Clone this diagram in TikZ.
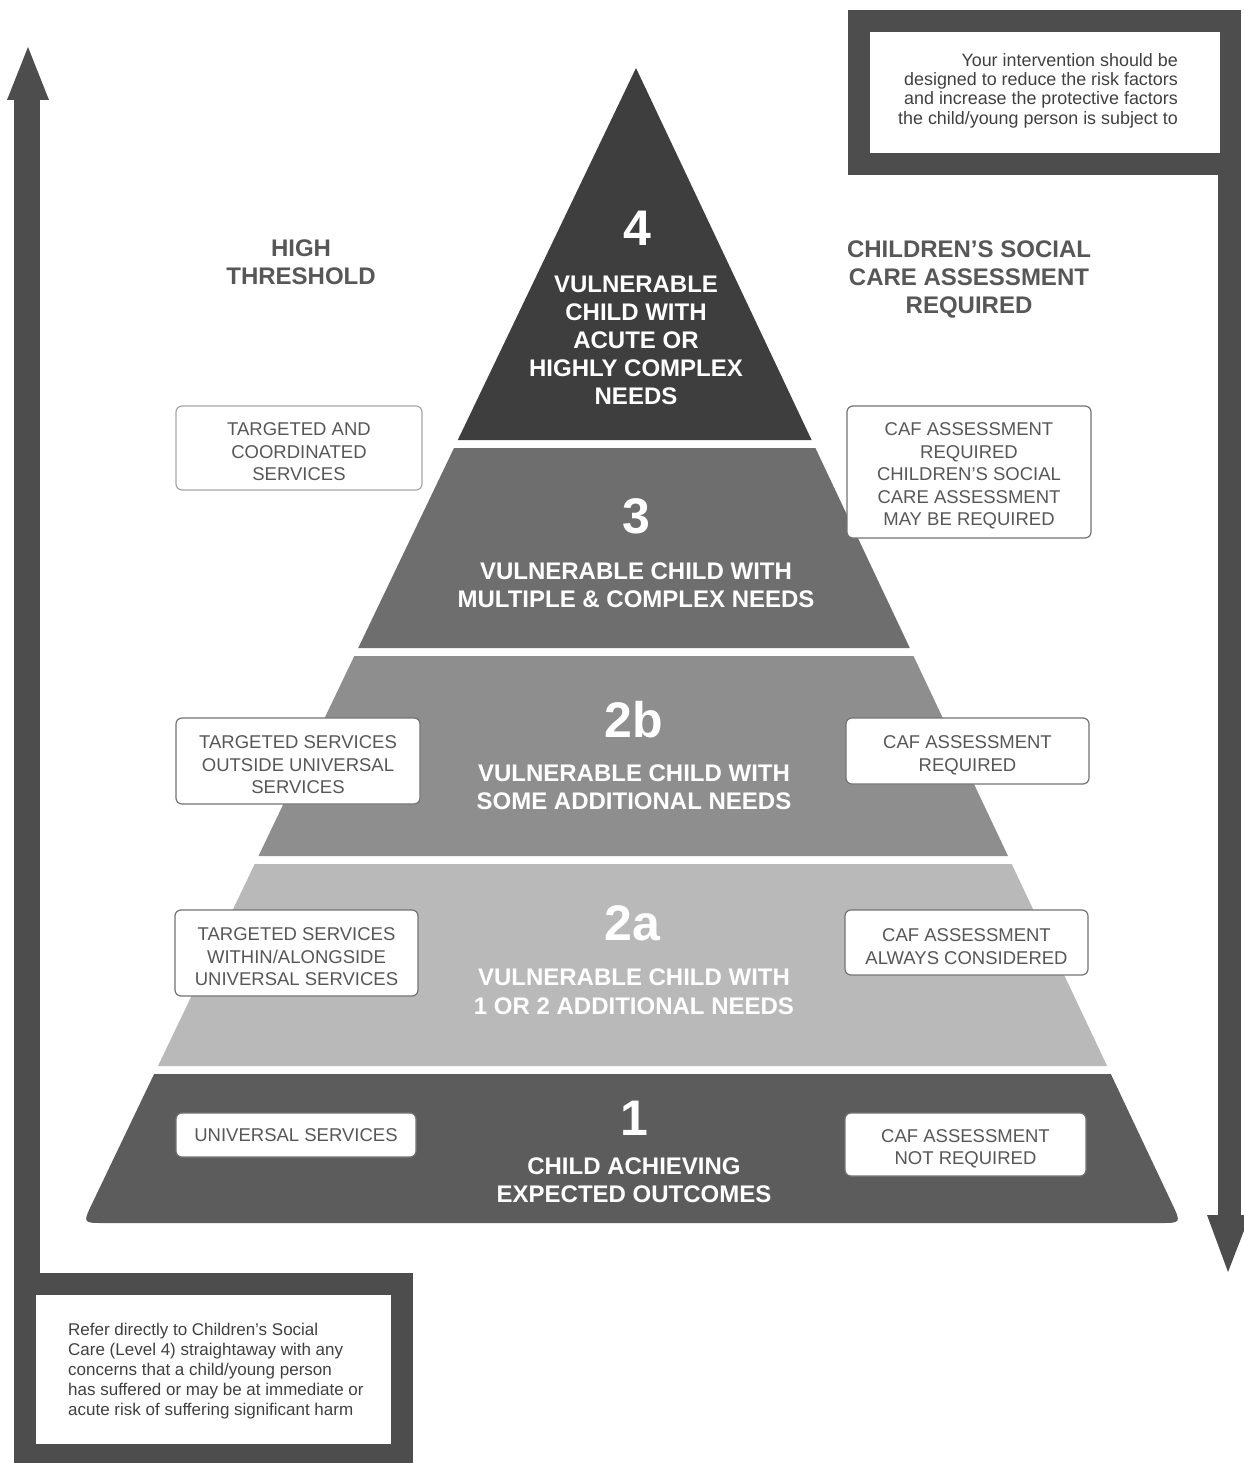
\documentclass[tikz,border=0pt]{standalone}
\usepackage{fontspec}
\setmainfont{Liberation Sans}
\definecolor{framec}{HTML}{4D4D4D}
\definecolor{lvfour}{HTML}{3E3E3E}
\definecolor{lvthree}{HTML}{6E6E6E}
\definecolor{lvtwob}{HTML}{8E8E8E}
\definecolor{lvtwoa}{HTML}{B9B9B9}
\definecolor{lvone}{HTML}{5C5C5C}
\definecolor{txtgray}{HTML}{575757}
\newcommand\bxs{\rule{0pt}{21pt}}
\begin{document}
\begin{tikzpicture}[x=1pt,y=-1pt,
  numtxt/.style={text=white,font=\fontsize{50}{54}\selectfont\bfseries,inner sep=0pt},
  leveltxt/.style={text=white,align=center,font=\fontsize{24}{28}\selectfont\bfseries,inner sep=0pt},
  headtxt/.style={text=txtgray,align=center,font=\fontsize{24}{28}\selectfont\bfseries,inner sep=0pt},
  sidebox/.style={draw=black!55,line width=1.2pt,fill=white,rounded corners=6pt,text=txtgray,
    align=center,font=\fontsize{18.5}{22.5}\selectfont,inner sep=0pt},
  notetxt/.style={text=black!75,inner sep=0pt}]
\useasboundingbox (0,0) rectangle (1243,1463);
\fill[white] (0,0) rectangle (1243,1463);

% left arrow and bottom-left box
\fill[framec] (14,100) rectangle (40,1273);
\fill[framec] (7,100) -- (49,100) -- (28,47) -- cycle;
\fill[framec] (14,1273) rectangle (413,1463);
\fill[white] (36,1295) rectangle (391,1444);
\node[notetxt,anchor=north west,align=left,font=\fontsize{17}{20}\selectfont] (notebl) at (68,1323)
  {Refer directly to Children’s Social\\Care (Level 4) straightaway with any\\concerns that a child/young person\\has suffered or may be at immediate or\\acute risk of suffering significant harm};

% right arrow and top-right box
\fill[framec] (848,10) rectangle (1241,175);
\fill[white] (870,32) rectangle (1220,153);
\fill[framec] (1218,175) rectangle (1241,1215);
\fill[framec] (1207,1215) -- (1250,1215) -- (1228,1272) -- cycle;
\node[notetxt,anchor=north east,align=right,font=\fontsize{17.9}{19.4}\selectfont] (notetr) at (1178,53)
  {Your intervention should be\\designed to reduce the risk factors\\and increase the protective factors\\the child/young person is subject to};

% pyramid bands
\fill[lvfour] (636,68) -- (811.6,440) -- (457.8,440) -- cycle;
\fill[lvthree] (454.0,448) -- (815.4,448) -- (909.8,648) -- (358.2,648) -- cycle;
\fill[lvtwob] (354.3,656) -- (913.5,656) -- (1008.0,856) -- (258.5,856) -- cycle;
\fill[lvtwoa] (254.7,864) -- (1011.7,864) -- (1107.1,1066) -- (158.0,1066) -- cycle;
\fill[lvone] (154.1,1074) -- (1110.8,1074) -- (1172.0,1203.5) .. controls (1181.2,1223) .. (1160.2,1223)
  -- (103.8,1223) .. controls (82.8,1223) .. (92.1,1203.6) -- cycle;

% level texts
\node[numtxt] (n4) at (637,228) {4};
\node[leveltxt] (t4) at (636,340) {VULNERABLE\\CHILD WITH\\ACUTE OR\\HIGHLY COMPLEX\\NEEDS};
\node[numtxt] (n3) at (636,516) {3};
\node[leveltxt] (t3) at (636,585) {VULNERABLE CHILD WITH\\MULTIPLE \& COMPLEX NEEDS};
\node[numtxt] (n2b) at (634,720) {2b};
\node[leveltxt] (t2b) at (634,787) {VULNERABLE CHILD WITH\\SOME ADDITIONAL NEEDS};
\node[numtxt] (n2a) at (632,923) {2a};
\node[leveltxt,font=\fontsize{24}{29}\selectfont\bfseries] (t2a) at (634,992) {VULNERABLE CHILD WITH\\1 OR 2 ADDITIONAL NEEDS};
\node[numtxt] (n1) at (634,1118) {1};
\node[leveltxt] (t1) at (634,1180) {CHILD ACHIEVING\\EXPECTED OUTCOMES};

% headers
\node[headtxt] (hl) at (301,262) {HIGH\\THRESHOLD};
\node[headtxt] (hr) at (969,279) {CHILDREN’S SOCIAL\\CARE ASSESSMENT\\REQUIRED};

% side boxes
\node[sidebox,draw=black!35,minimum width=246pt,minimum height=84pt] (lb3) at (299,448) {\bxs TARGETED AND\\COORDINATED\\SERVICES};
\node[sidebox,minimum width=244pt,minimum height=86pt] (lb2b) at (298,761) {\bxs TARGETED SERVICES\\OUTSIDE UNIVERSAL\\SERVICES};
\node[sidebox,minimum width=243pt,minimum height=86pt] (lb2a) at (296.5,953) {\bxs TARGETED SERVICES\\WITHIN/ALONGSIDE\\UNIVERSAL SERVICES};
\node[sidebox,minimum width=240pt,minimum height=44pt] (lb1) at (296,1135) {UNIVERSAL SERVICES};
\node[sidebox,minimum width=244pt,minimum height=132pt] (rb3) at (969,472) {\bxs CAF ASSESSMENT\\REQUIRED\\CHILDREN’S SOCIAL\\CARE ASSESSMENT\\MAY BE REQUIRED};
\node[sidebox,minimum width=243pt,minimum height=66pt] (rb2b) at (967.5,751) {\bxs CAF ASSESSMENT\\REQUIRED};
\node[sidebox,minimum width=243pt,minimum height=65pt] (rb2a) at (966.5,942.5) {\bxs CAF ASSESSMENT\\ALWAYS CONSIDERED};
\node[sidebox,minimum width=241pt,minimum height=63pt] (rb1) at (965.5,1144.5) {\bxs CAF ASSESSMENT\\NOT REQUIRED};
\end{tikzpicture}
\end{document}
